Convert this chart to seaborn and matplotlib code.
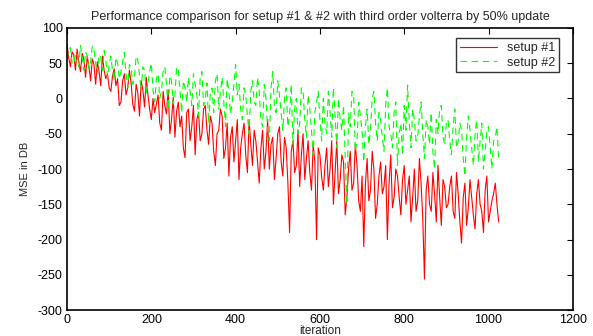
import numpy as np
import pandas as pd
import seaborn as sns
import matplotlib.pyplot as plt

# === 1. Data (one sample every 4 iterations) ===
iteration = list(range(0, 1025, 4))

setup1 = [78, 58, 45, 66, 62, 40, 70, 52, 38, 64, 55, 30, 60, 45, 25, 56, 48, 20, 52, 38, 18, 60, 40, 28, 35, 15,
          10, 32, 42, 18, 28, -10, -5, 25, 35, 5, 15, 40, 22, -8, -18, 20, 8, -25, 25, 12, -12, 30, 5, -15, -30, 0,
          -20, -8, 5, -35, -45, 10, -10, -22, 12, -50, -30, 2, -55, -18, -5, -40, -25, -70, -84, -20, -15, -60, -40, -10,
          -80, -30, -20, -60, -50, -15, -10, -45, -65, -25, -35, -75, -95, -50, -45, -15, -25, -85, -70, -35, -110, -55,
          -40, -90, -60, -30,
          -115, -70, -50, -35, -80, -105, -30, -65, -95, -45, -60, -90, -120, -70, -45, -100, -75, -30, -100, -65,
          -55, -115, -85, -50,
          -40, -90, -110, -55, -70, -120, -190, -75, -60, -105, -95, -45, -125, -80, -50, -115, -85, -60, -105, -130,
          -65, -90, -200, -70, -80, -110,
          -130, -95, -70, -125, -100, -60, -150, -105, -60, -135, -115, -80, -90, -165, -140, -100, -75, -130, -120, -65,
          -95, -145, -160, -110,
          -210, -120, -85, -145, -130, -75, -100, -170, -150, -110, -90, -135, -125, -95, -200, -120, -80, -155, -140,
          -100, -110, -140, -165, -115, -95, -150,
          -130, -110, -175, -140, -100, -160, -145, -85, -120, -170, -256, -130, -110, -150, -160, -105, -135, -175,
          -95, -140, -180, -115, -125, -155,
          -150, -125, -110, -160, -170, -105, -135, -175, -205, -140, -120, -180, -155, -115, -140, -165, -185, -135,
          -115, -150, -160, -190, -130, -110, -175, -160, -145, -135, -120, -150, -175]

setup2 = [55, 68, 72, 50, 48, 62, 65, 45, 75, 58, 40, 66, 60, 42, 52, 74, 70, 50, 35, 62, 58, 40, 68, 55, 30, 48,
          60, 40, 25, 58, 50, 28, 38, 52, 65, 35, 15, 48, 45, 20, 30, 60, 55, 32, 10, 45, 40, 5, 22, 38, 50, 12,
          -5, 28, 35, 0, 10, 38, 45, 20, -15, 32, 25, -8, 5, 45, 40, 12, -20, 25, 15, -5, 30, 10, -10, 35,
          20, 5, -25, 30, 38, -10, 0, 22, -35, 8, 15, -20, 25, 35, -15, 10, 30, -5, -40, 28, 10, -22, -5, 20, 48, 5,
          20, -15, -30, 15, 5, -25, -50, 10, 25, -5, -10, 30, 10, -30, -40, 20, 0, -45, -60, 15, 38, -10, -20, 25,
          5, -20, -45, 0, 15, -40, -25, 20, -65, -15, 0, -50, -35, 15, 10, -30, -55, 5, -15, -45, -80, -20, -5, 10,
          -30, -60,
          0, -35, -50, 10, -20, -55, 15, -25, -70, 0, -30, -45, -10, -85, -150, -20, -40, 10, 5, -75, -60, -5, -25, -45,
          -90, -40, -15, -65, -45, 0, 10, -35, -60, -20, -30, -55, -75, -10, 15, -40, -50, -70, -20, -5, -95, -50,
          -35, -80, -10, -45,
          19, -35, -70, -15, -30, -60, -55, -25, -5, -50, -85, -30, -40, -65, -20, -75, -100, -30, -50, -15, -10, -55,
          -65, -35,
          -30, -60, -80, -40, -15, -70, -60, -35, -45, -85, -110, -55, -25, -45, -70, -95, -50, -30, -90, -60, -35,
          -100, -75, -45, -40, -70, -100, -60, -55, -40, -85]

xticks = [0, 200, 400, 600, 800, 1000, 1200]
yticks = [-300, -250, -200, -150, -100, -50, 0, 50, 100]

df = pd.DataFrame({"iteration": iteration, "setup #1": setup1, "setup #2": setup2})

# === 2. Style ===
sns.set_style("white")
plt.rcParams["font.family"] = ["Liberation Sans", "DejaVu Sans"]
plt.rcParams["axes.unicode_minus"] = False

fig = plt.figure(figsize=(5.93, 3.36), dpi=100)
ax = fig.add_axes([0.113, 0.077, 0.853, 0.84])

# === 3. Lines ===
sns.lineplot(data=df, x="iteration", y="setup #1", color="#ff0000", linewidth=0.8,
             label="setup #1", ax=ax)
sns.lineplot(data=df, x="iteration", y="setup #2", color="#00ff00", linewidth=0.8,
             linestyle=(0, (6, 4)), label="setup #2", ax=ax)

ax.set_xlim(0, 1200)
ax.set_ylim(-300, 100)
ax.set_xticks(xticks)
ax.set_yticks(yticks)
ax.tick_params(direction="in", length=4, width=0.8, top=True, right=True,
               labelsize=9, colors="black", pad=3)
for s in ax.spines.values():
    s.set_color("black")
    s.set_linewidth(1.2)

ax.set_title("Performance comparison for setup #1 & #2 with third order volterra by 50% update",
             fontsize=9, pad=6)
ax.set_xlabel("iteration", fontsize=8.5, labelpad=-1)
ax.set_ylabel("MSE in DB", fontsize=8, labelpad=6)

leg = ax.legend(loc="upper right", fontsize=9, frameon=True, fancybox=False,
                handlelength=3, borderpad=0.3, labelspacing=0.2,
                bbox_to_anchor=(0.985, 0.985))
leg.get_frame().set_edgecolor("black")
leg.get_frame().set_linewidth(1.0)

plt.savefig("out.png", dpi=100)
plt.close()
